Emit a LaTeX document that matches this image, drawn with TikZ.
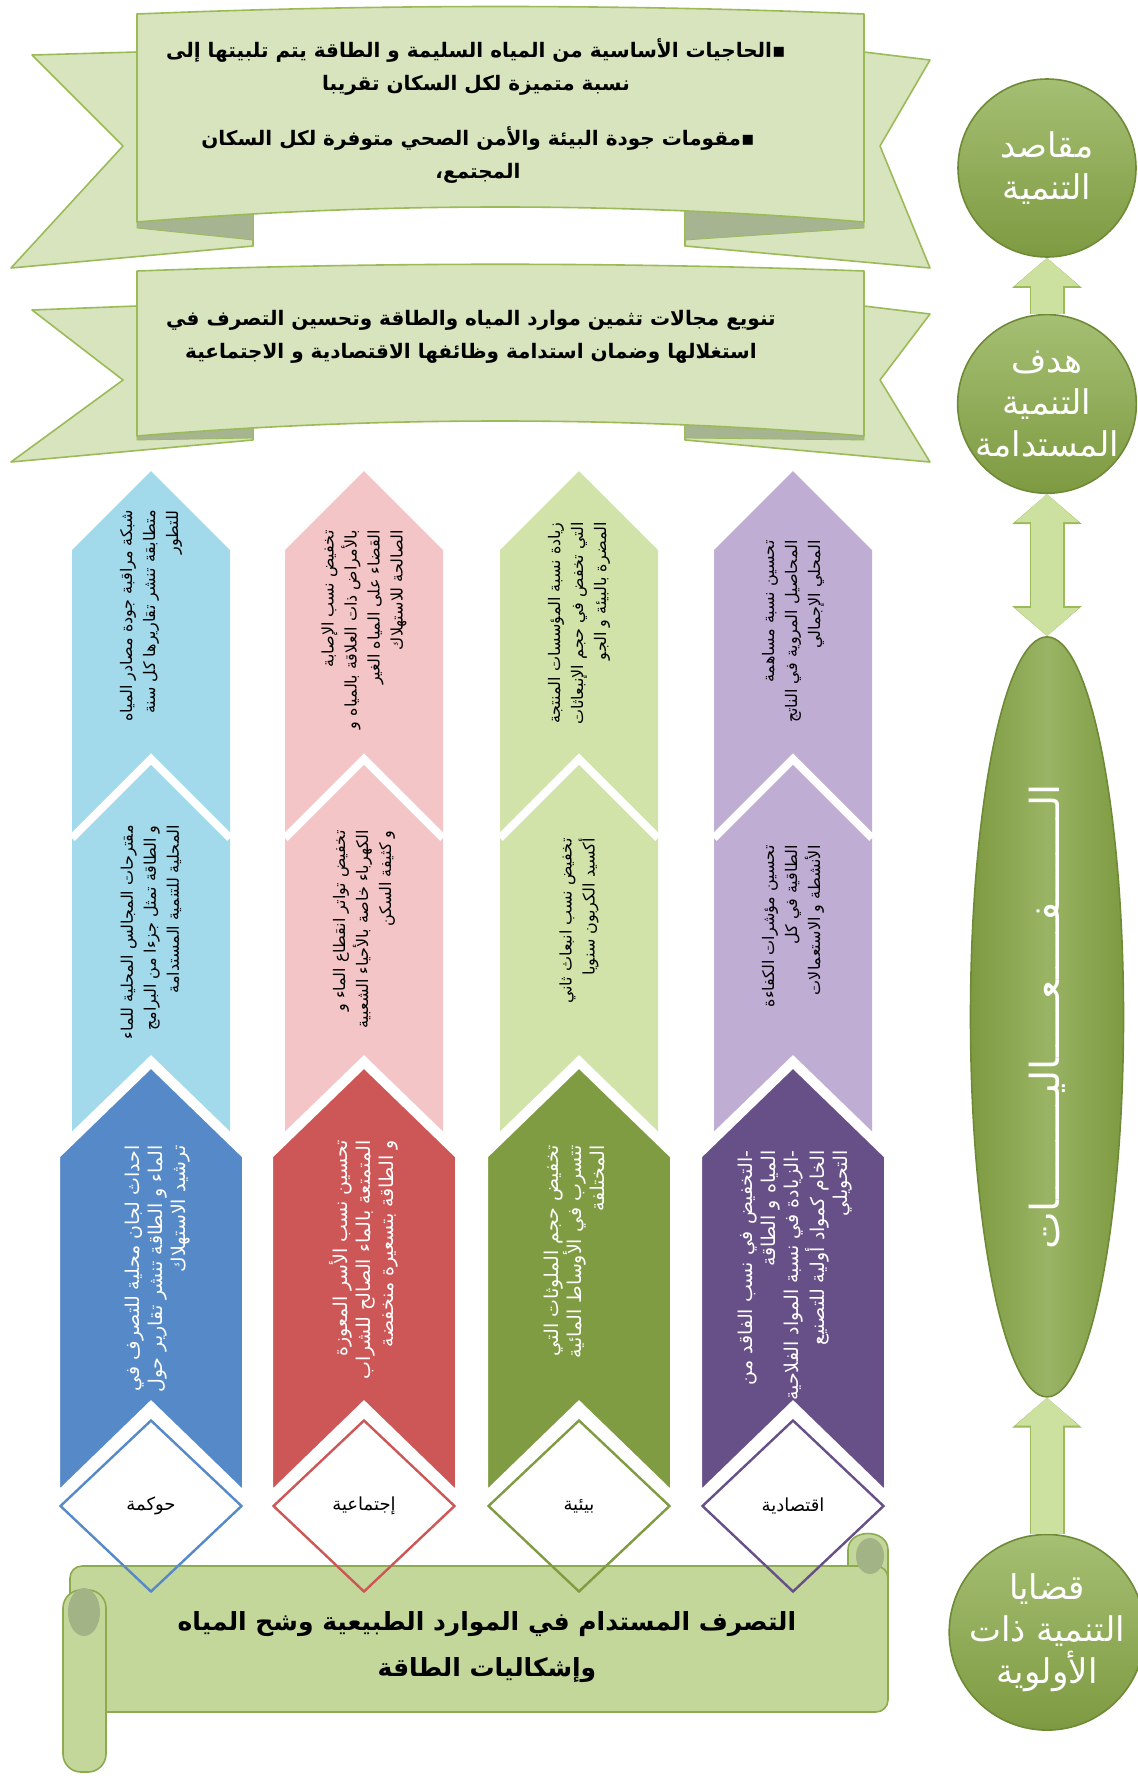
\documentclass[tikz,border=0pt]{standalone}
\usepackage{fontspec}
\usepackage{tikz}
\usetikzlibrary{arrows.meta}
\usetikzlibrary{positioning}
\usetikzlibrary{shapes.geometric}
\tikzset{>=latex}
\newfontfamily\arabicfont[Script=Arabic]{DejaVu Sans}
\TeXXeTstate=1
\newcommand{\artxt}[1]{\beginR #1\endR}
\definecolor{ribbon}{HTML}{D7E4BD}
\definecolor{ribbonedge}{HTML}{9BBB59}
\definecolor{ribbonfold}{HTML}{A7B491}
\definecolor{lblue}{HTML}{A2DAEB}
\definecolor{dblue}{HTML}{5689C8}
\definecolor{lred}{HTML}{F4C5C6}
\definecolor{dred}{HTML}{CC5756}
\definecolor{lgreen}{HTML}{D2E3AA}
\definecolor{dgreen}{HTML}{7F9C42}
\definecolor{lviolet}{HTML}{BFADD4}
\definecolor{dviolet}{HTML}{674F88}
\definecolor{circgreen}{HTML}{7E9A41}
\definecolor{circtop}{HTML}{A5BF73}
\definecolor{circedge}{HTML}{6E8A36}
\definecolor{arrowfill}{HTML}{CCE0A0}
\definecolor{scrollfill}{HTML}{C4D79B}
\definecolor{scrolledge}{HTML}{8CAA4E}
\definecolor{curl}{HTML}{A2B385}
\tikzstyle{circ}=[circle,minimum size=89pt,inner sep=0pt,top color=circtop,bottom color=circgreen,draw=circedge,thick,text=white,align=center,font=\arabicfont\fontsize{17}{21}\selectfont]
\tikzstyle{oval}=[ellipse,minimum width=76.5pt,minimum height=380pt,inner sep=0pt,left color=circgreen,right color=circgreen,middle color=circtop!70!circgreen,draw=circedge,thick]
\tikzstyle{ribbon}=[fill=ribbon,draw=ribbonedge,line width=0.8pt,line join=round]
\tikzstyle{scroll}=[fill=scrollfill,draw=scrolledge,line width=0.8pt]
\tikzstyle{bannertext}=[align=center,font=\arabicfont\bfseries\fontsize{10}{16.5}\selectfont]
\tikzstyle{coltext}=[rotate=90,anchor=east,align=right,inner sep=0pt,font=\arabicfont\fontsize{8}{11.5}\selectfont]
\tikzstyle{darktext}=[coltext,text=white,font=\arabicfont\fontsize{9.5}{11.5}\selectfont]
\tikzstyle{gem}=[diamond,minimum width=91pt,minimum height=86pt,inner sep=0pt,line width=1.2pt,font=\arabicfont\fontsize{9}{11}\selectfont]
\tikzstyle{fatarrow}=[line width=16pt,draw=arrowfill,-{Triangle[length=14pt,width=31pt]},preaction={draw=ribbonedge,line width=17.5pt,-{Triangle[length=15pt,width=34pt]}}]
\tikzstyle{fatboth}=[line width=16pt,draw=arrowfill,{Triangle[length=14pt,width=31pt]}-{Triangle[length=14pt,width=31pt]},preaction={draw=ribbonedge,line width=17.5pt,{Triangle[length=15pt,width=34pt]}-{Triangle[length=15pt,width=34pt]}}]
\newcommand{\pillar}[3]{%
  \fill[#2] (#1,471) -- (#1+79,550) -- (#1+79,1150) -- (#1-79,1150) -- (#1-79,550) -- cycle;
  \draw[white,line width=4pt] (#1-79,838) -- (#1,759) -- (#1+79,838);
  \filldraw[fill=#3,draw=white,line width=5pt] (#1,1062) -- (#1+96,1155) -- (#1+96,1500) -- (#1,1407) -- (#1-96,1500) -- (#1-96,1155) -- cycle;
}

\begin{document}
\begin{tikzpicture}[x=0.5pt,y=-0.5pt]
	\useasboundingbox (0,0) rectangle (1138,1789);
	\filldraw[ribbon] (137,52) -- (32,55) -- (123,146) -- (11,268) -- (253,246) -- (253,200) -- cycle;
	\filldraw[ribbon] (864,52) -- (930,60) -- (880,146) -- (930,268) -- (685,246) -- (685,200) -- cycle;
	\filldraw[ribbonfold,draw=ribbonedge] (137,215) -- (253,205) -- (253,240) -- (137,228) -- cycle;
	\filldraw[ribbonfold,draw=ribbonedge] (864,215) -- (685,205) -- (685,240) -- (864,228) -- cycle;
	\filldraw[ribbon] (137,14) .. controls (380,4) and (620,4) .. (864,14) -- (864,222) .. controls (620,202) and (380,202) .. (137,222) -- cycle;
	\node[bannertext] (need) at (476,67) {\artxt{▪الحاجيات الأساسية من المياه السليمة و الطاقة يتم تلبيتها إلى}\\\artxt{نسبة متميزة لكل السكان تقريبا}};
	\node[bannertext] (health) at (478,155) {\artxt{▪مقومات جودة البيئة والأمن الصحي متوفرة لكل السكان}\\\artxt{المجتمع،}};
	\filldraw[ribbon] (137,306) -- (32,310) -- (123,380) -- (11,462) -- (253,440) -- (253,410) -- cycle;
	\filldraw[ribbon] (864,306) -- (930,314) -- (880,380) -- (930,462) -- (685,440) -- (685,410) -- cycle;
	\filldraw[ribbonfold,draw=ribbonedge] (137,425) -- (253,414) -- (253,438) -- (137,440) -- cycle;
	\filldraw[ribbonfold,draw=ribbonedge] (864,425) -- (685,414) -- (685,438) -- (864,440) -- cycle;
	\filldraw[ribbon] (137,271) .. controls (380,262) and (620,262) .. (864,271) -- (864,436) .. controls (620,416) and (380,416) .. (137,436) -- cycle;
	\node[bannertext] (aim) at (471,337) {\artxt{تنويع مجالات تثمين موارد المياه والطاقة وتحسين التصرف في}\\\artxt{استغلالها وضمان استدامة وظائفها الاقتصادية و الاجتماعية}};
	\pillar{151}{lblue}{dblue}
	\pillar{364}{lred}{dred}
	\pillar{579}{lgreen}{dgreen}
	\pillar{793}{lviolet}{dviolet}
	\node[coltext] (t1) at (151,510) {\artxt{شبكة مراقبة جودة مصادر المياه}\\\artxt{متطابقة تنشر تقاريرها كل سنة}\\\artxt{للتطور}};
	\node[coltext] (t2) at (364,530) {\artxt{تخفيض نسب الإصابة}\\\artxt{بالأمراض ذات العلاقة بالمياه و}\\\artxt{القضاء على المياه الغير}\\\artxt{الصالحة للاستهلاك}};
	\node[coltext] (t3) at (579,522) {\artxt{زيادة نسبة المؤسسات المنتجة}\\\artxt{التي تخفض في حجم الإنبعاثات}\\\artxt{المضرة بالبيئة و الجو}};
	\node[coltext] (t4) at (793,540) {\artxt{تحسين نسبة مساهمة}\\\artxt{المحاصيل المروية في الناتج}\\\artxt{المحلي الإجمالي}};
	\node[coltext] (t5) at (151,825) {\artxt{مقترحات المجالس المحلية للماء}\\\artxt{و الطاقة تمثل جزءا من البرامج}\\\artxt{المحلية للتنمية المستدامة}};
	\node[coltext] (t6) at (364,830) {\artxt{تخفيض تواتر انقطاع الماء و}\\\artxt{الكهرباء خاصة بالأحياء الشعبية}\\\artxt{و كثيفة السكن}};
	\node[coltext] (t7) at (579,838) {\artxt{تخفيض نسب انبعاث ثاني}\\\artxt{أكسيد الكربون سنويا}};
	\node[coltext] (t8) at (793,845) {\artxt{تحسين مؤشرات الكفاءة}\\\artxt{الطاقية في كل}\\\artxt{الأنشطة و الاستعمالات}};
	\node[darktext] (t9) at (158,1145) {\artxt{احداث لجان محلية للتصرف في}\\\artxt{الماء و الطاقة تنشر تقارير حول}\\\artxt{ترشيد الاستهلاك}};
	\node[darktext] (t10) at (364,1140) {\artxt{تحسين نسب الأسر المعوزة}\\\artxt{المتمتعة بالماء الصالح للشراب}\\\artxt{و الطاقة بتسعيرة منخفضة}};
	\node[darktext] (t11) at (575,1145) {\artxt{تخفيض حجم الملوثات التي}\\\artxt{تتسرب في الأوساط المائية}\\\artxt{المختلفة}};
	\node[darktext] (t12) at (795,1150) {\artxt{-التخفيض في نسب الفاقد من}\\\artxt{المياه و الطاقة}\\\artxt{-الزيادة في نسبة المواد الفلاحية}\\\artxt{الخام كمواد أولية للتصنيع}\\\artxt{التحويلي}};
	\filldraw[scroll] (848,1580) -- (848,1550) .. controls (848,1528) and (888,1528) .. (888,1550) -- (888,1580) -- cycle;
	\filldraw[scroll,rounded corners=6pt] (70,1566) rectangle (888,1712);
	\filldraw[scroll,rounded corners=9pt] (63,1590) rectangle (106,1772);
	\fill[curl] (84,1612) ellipse (8pt and 12pt);
	\fill[curl] (870,1556) ellipse (7pt and 9pt);
	\node[align=center,font=\arabicfont\bfseries\fontsize{12.5}{23}\selectfont] (title) at (487,1647) {\artxt{التصرف المستدام في الموارد الطبيعية وشح المياه}\\\artxt{وإشكاليات الطاقة}};
	\node[gem,draw=dblue] (d1) at (151,1506) {\artxt{حوكمة}};
	\node[gem,draw=dred] (d2) at (364,1506) {\artxt{إجتماعية}};
	\node[gem,draw=dgreen] (d3) at (579,1506) {\artxt{بيئية}};
	\node[gem,draw=dviolet] (d4) at (793,1506) {\artxt{اقتصادية}};
	\node[circ] (maqasid) at (1047,168) {\artxt{مقاصد}\\\artxt{التنمية}};
	\node[circ] (hedf) [below=28pt of maqasid] {\artxt{هدف}\\\artxt{التنمية}\\\artxt{المستدامة}};
	\node[oval] (fail) [below=71pt of hedf] {};
	\node[rotate=90,text=white,font=\arabicfont\fontsize{20}{24}\selectfont] (failtext) at (fail.center) {\artxt{الــــــــفـــــعـــــاليـــــــــات}};
	\node[circ] (qadaya) [below=68pt of fail] {\artxt{قضايا}\\\artxt{التنمية ذات}\\\artxt{الأولوية}};
	\draw[fatarrow] (hedf) -- (maqasid);
	\draw[fatboth] (hedf) -- (fail);
	\draw[fatarrow] (qadaya) -- (fail);
\end{tikzpicture}
\end{document}
